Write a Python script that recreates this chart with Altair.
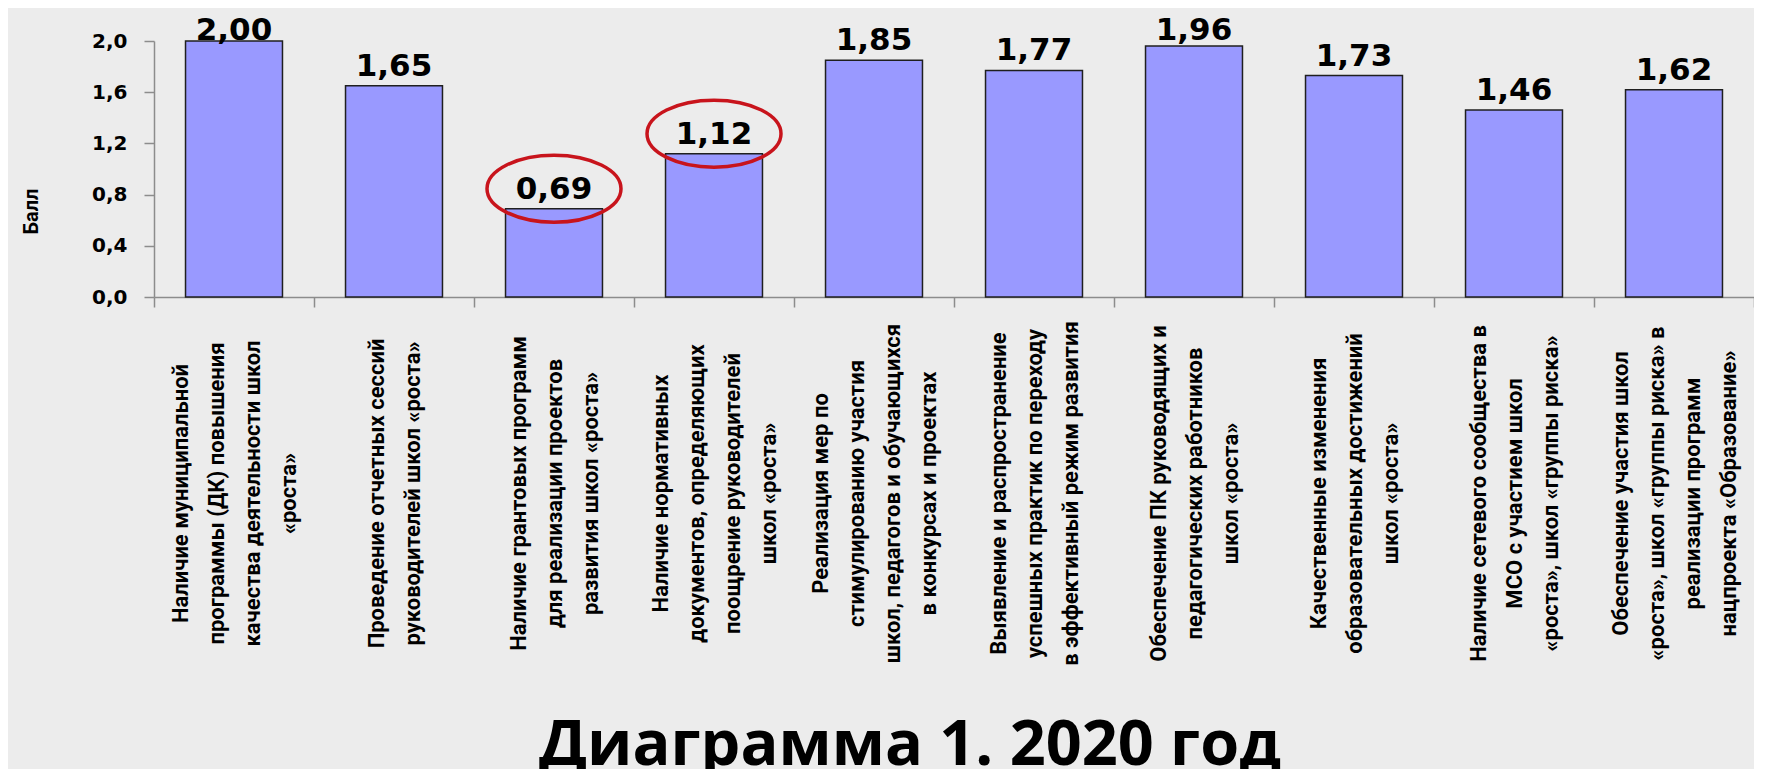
import altair as alt
import pandas as pd

categories = [
    "Наличие муниципальной|программы (ДК) повышения|качества деятельности школ|«роста»",
    "Проведение отчетных сессий|руководителей школ «роста»",
    "Наличие грантовых программ|для реализации проектов|развития школ «роста»",
    "Наличие нормативных|документов, определяющих|поощрение руководителей|школ «роста»",
    "Реализация мер по|стимулированию участия|школ, педагогов и обучающихся|в конкурсах и проектах",
    "Выявление и распространение|успешных практик по переходу|в эффективный режим развития",
    "Обеспечение ПК руководящих и|педагогических работников|школ «роста»",
    "Качественные изменения|образовательных достижений|школ «роста»",
    "Наличие сетевого сообщества в|МСО с участием школ|«роста», школ «группы риска»",
    "Обеспечение участия школ|«роста», школ «группы риска» в|реализации программ|нацпроекта «Образование»",
]
values = [2.00, 1.65, 0.69, 1.12, 1.85, 1.77, 1.96, 1.73, 1.46, 1.62]
highlighted = [False, False, True, True, False, False, False, False, False, False]
y_ticks = [0.0, 0.4, 0.8, 1.2, 1.6, 2.0]

df = pd.DataFrame({"cat": categories, "value": values, "hl": highlighted})

LABEL_FONT = "Roboto"
NUM_FONT = "DejaVu Sans"
LINE_H = 36

x_enc = alt.X(
    "cat:N",
    sort=None,
    scale=alt.Scale(paddingInner=0, paddingOuter=0),
    axis=alt.Axis(
        title=None,
        labelExpr="split(datum.label, '|')",
        labelAngle=270,
        labelAlign="center",
        labelBaseline="middle",
        labelOffset={"expr": f"-(length(split(datum.label, '|')) - 1) * {LINE_H} / 2"},
        labelPadding=186,
        labelLineHeight=LINE_H,
        labelFont=LABEL_FONT,
        labelFontSize=22,
        labelFontWeight="bold",
        labelColor="black",
        labelLimit=1000,
        labelOverlap=False,
        tickBand="extent",
        tickSize=10,
        tickColor="#8c8c8c",
        domainColor="#8c8c8c",
        tickWidth=1.5,
        domainWidth=1.5,
    ),
)

y_enc = alt.Y(
    "value:Q",
    scale=alt.Scale(domain=[0, 2], nice=False),
    axis=alt.Axis(
        title="Балл",
        titleAngle=270,
        titleX=-123,
        titleY=170,
        titleAlign="center",
        titleBaseline="middle",
        titleFont=LABEL_FONT,
        titleFontSize=20,
        titleFontWeight="bold",
        titleColor="black",
        values=y_ticks,
        labelExpr="replace(format(datum.value, '.1f'), '.', ',')",
        labelFont=NUM_FONT,
        labelFontSize=20,
        labelFontWeight="bold",
        labelColor="black",
        labelPadding=17,
        tickSize=10,
        tickColor="#8c8c8c",
        domainColor="#8c8c8c",
        tickWidth=1.5,
        domainWidth=1.5,
        grid=False,
    ),
)

base = alt.Chart(df).encode(x=x_enc, y=y_enc)

bars = base.mark_bar(
    color="#9999ff",
    stroke="#1f1f1f",
    strokeWidth=1.5,
    width=alt.RelativeBandSize(0.606),
)

# value labels; like the spreadsheet, labels of the tallest bars are kept inside the plot
labels = base.transform_calculate(
    lbl="replace(format(datum.value, '.2f'), '.', ',')",
    ly="min(datum.value, 1.93)",
).mark_text(
    baseline="alphabetic",
    dy=-10,
    font=NUM_FONT,
    fontSize=31,
    fontWeight="bold",
    color="black",
).encode(y="ly:Q", text="lbl:N")

ellipse = "M -1 0 A 1 0.5 0 1 1 1 0 A 1 0.5 0 1 1 -1 0 Z"
rings = base.transform_filter("datum.hl").mark_point(
    shape=ellipse,
    size=17956,
    filled=False,
    stroke="#c8141c",
    strokeWidth=3.5,
    opacity=1,
    yOffset=-20,
)

chart = (
    alt.layer(bars, labels, rings)
    .properties(
        width=1600,
        height=256,
        autosize=alt.AutoSizeParams(type="none"),
        padding={"left": 146, "top": 33, "right": 0, "bottom": 500},
        title=alt.TitleParams(
            "Диаграмма 1. 2020 год",
            orient="bottom",
            anchor="middle",
            font="Open Sans",
            fontSize=63,
            fontWeight="bold",
            color="black",
            offset=50,
            dx=-44,
        ),
    )
    .configure(background="#ececec")
    .configure_view(stroke=None)
)

chart.save("out.html", embed_options={"renderer": "svg", "actions": False})
